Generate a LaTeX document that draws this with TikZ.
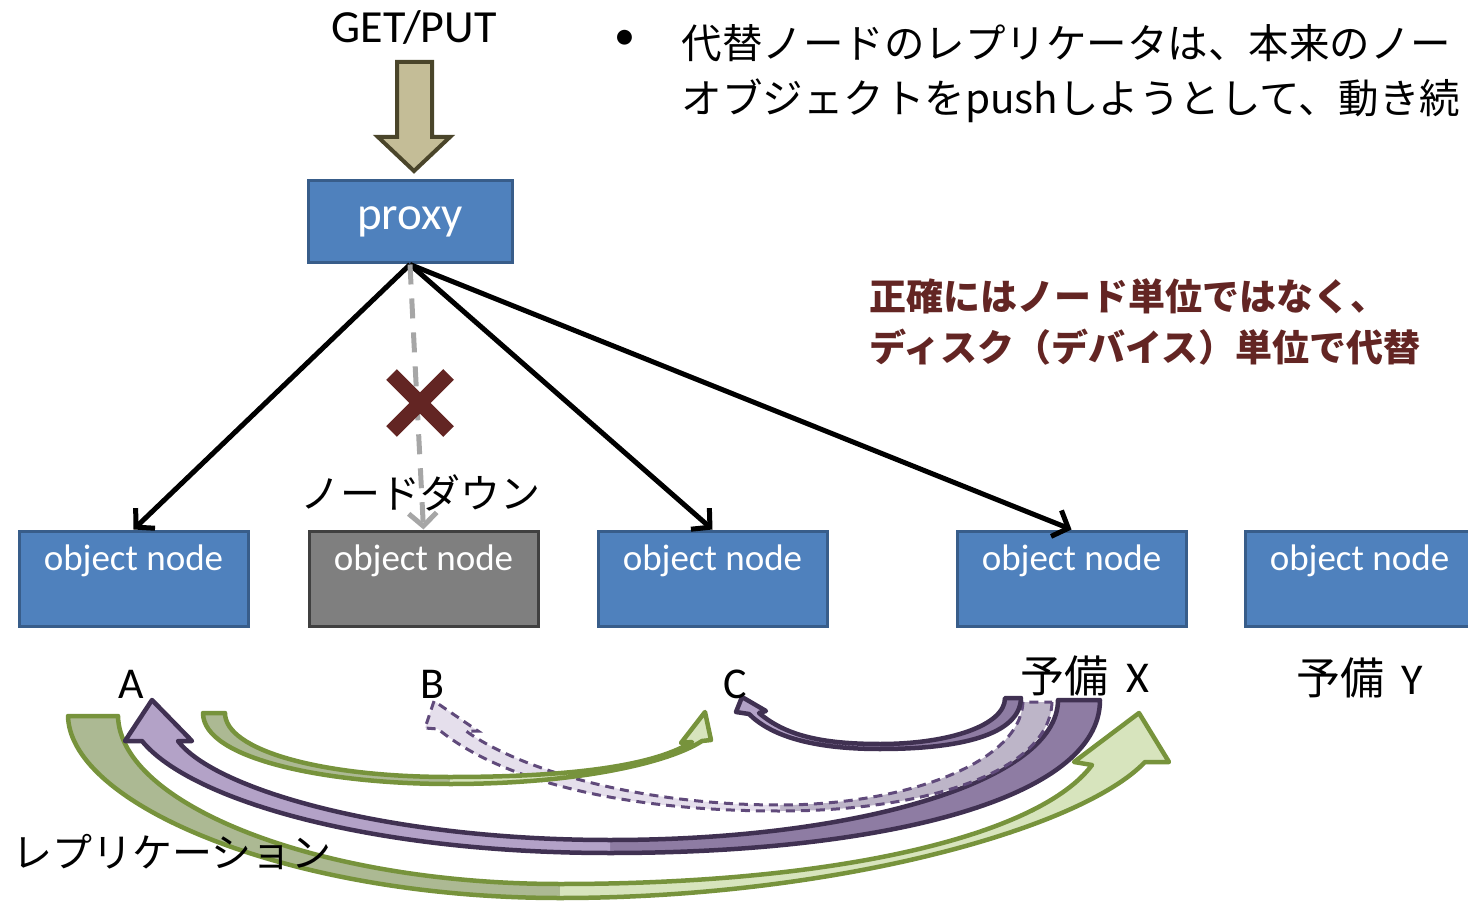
\documentclass[tikz,border=0pt]{standalone}
\usepackage{fontspec}
\setmainfont{Carlito}
\newfontfamily\jp{Noto Sans CJK JP}
\usetikzlibrary{arrows.meta,shapes.misc}

\definecolor{nodeblue}{HTML}{4F81BD}
\definecolor{nodeedge}{HTML}{385D8A}
\definecolor{downgray}{HTML}{7F7F7F}
\definecolor{downedge}{HTML}{404040}
\definecolor{tanfill}{HTML}{C4BD97}
\definecolor{tanedge}{HTML}{4A452A}
\definecolor{darkred}{HTML}{632523}
\definecolor{linkgray}{HTML}{A6A6A6}
\definecolor{greenedge}{HTML}{77933C}
\definecolor{greenlight}{HTML}{D7E4BD}
\definecolor{greendark}{HTML}{ACB993}
\definecolor{purpedge}{HTML}{403152}
\definecolor{purplight}{HTML}{B3A2C7}
\definecolor{purpdark}{HTML}{8E7CA3}
\definecolor{dashedge}{HTML}{604A7B}
\definecolor{dashlight}{HTML}{E5DFEC}
\definecolor{dashdark}{HTML}{BDB5C8}

% curved block arrow: #1 prefix of the coordinates, #2 tail fill, #3 head fill, #4 outline
\newcommand{\bandarrow}[4]{%
  \fill[#2] (#1t1) .. controls (#1c1) and (#1c2) .. (#1mo) -- (#1mi)
    .. controls (#1c7) and (#1c8) .. (#1t2) -- cycle;
  \fill[#3] (#1mo) .. controls (#1c3) and (#1c4) .. (#1n1) -- (#1b1) -- (#1p)
    -- (#1b2) -- (#1n2) .. controls (#1c5) and (#1c6) .. (#1mi) -- cycle;
  \draw[#4] (#1t1) .. controls (#1c1) and (#1c2) .. (#1mo)
    .. controls (#1c3) and (#1c4) .. (#1n1) -- (#1b1) -- (#1p) -- (#1b2) -- (#1n2)
    .. controls (#1c5) and (#1c6) .. (#1mi) .. controls (#1c7) and (#1c8) .. (#1t2) -- cycle;
}

\begin{document}
\begin{tikzpicture}[x=1pt,y=-1pt,
    box/.style={draw=nodeedge, fill=nodeblue, line width=3pt, text=white},
    objnode/.style={box, minimum width=229pt, inner ysep=0pt, text height=39pt,
      text depth=56pt, font=\fontsize{37}{44}\selectfont},
    lbl/.style={font=\fontsize{44}{52}\selectfont},
    jplbl/.style={font=\jp\fontsize{40}{48}\selectfont},
    link/.style={line width=5pt, -{Straight Barb[length=13pt,width=28pt]}},
    band/.style={line width=4.5pt, line join=round}]

  \useasboundingbox (0,0) rectangle (1468,901);

  % request
  \node[lbl, font=\fontsize{46}{54}\selectfont] (getput) at (414,28) {GET/PUT};
  \draw[fill=tanfill, draw=tanedge, line width=4pt]
    (397,62) -- (432,62) -- (432,137) -- (450,137) -- (414,171)
    -- (378,137) -- (397,137) -- cycle;
  \node[box, minimum width=204pt, minimum height=82pt,
    font=\fontsize{47}{54}\selectfont] (proxy) at (410,222) {proxy};

  % object nodes
  \node[objnode] (A) at (133.5,578.5) {object node};
  \node[objnode, fill=downgray, draw=downedge] (B) at (423.5,578.5) {object node};
  \node[objnode] (C) at (712.5,578.5) {object node};
  \node[objnode] (X) at (1071.5,578.5) {object node};
  \node[objnode] (Y) at (1359.5,578.5) {object node};

  \node[jplbl] (down) at (420,493) {ノードダウン};

  \draw[link] (proxy.south) -- (A.north);
  \draw[link] (proxy.south) -- (C.north);
  \draw[link] (proxy.south) -- (X.north);
  \draw[link, linkgray, dash pattern=on 20pt off 14pt] (proxy.south) -- (B.north);
  \node[cross out, draw=darkred, line width=15pt, minimum size=42pt, inner sep=0pt] (fail) at (420,403) {};

  % note
  \node[anchor=base west, text=darkred, font=\jp\bfseries\fontsize{37}{44}\selectfont] (note1) at (866,311) {正確にはノード単位ではなく、};
  \node[anchor=base west, text=darkred, font=\jp\bfseries\fontsize{37}{44}\selectfont] (note2) at (866,362) {ディスク（デバイス）単位で代替};

  % bullet
  \node[font=\fontsize{42}{50}\selectfont] (bul) at (625,40) {•};
  \node[anchor=base west, font=\jp\fontsize{40.5}{50}\selectfont] (line1) at (678,59) {代替ノードのレプリケータは、本来のノー};
  \node[anchor=base west, font=\jp\fontsize{40.5}{50}\selectfont] (line2) at (678,114) {オブジェクトをpushしようとして、動き続};

  % replication arrows
  \path (68,716) coordinate (g1t1) (118,716) coordinate (g1t2)
    (70,805) coordinate (g1c1) (290,898) coordinate (g1c2) (560,898) coordinate (g1mo)
    (830,898) coordinate (g1c3) (1080,830) coordinate (g1c4) (1145,762) coordinate (g1n1)
    (1169,762) coordinate (g1b1) (1139,713) coordinate (g1p) (1074,762) coordinate (g1b2)
    (1092,765) coordinate (g1n2) (1040,835) coordinate (g1c5) (840,884) coordinate (g1c6)
    (560,884) coordinate (g1mi) (320,884) coordinate (g1c7) (120,805) coordinate (g1c8);
  \bandarrow{g1}{greendark}{greenlight}{band, greenedge}

  \path (1100,700) coordinate (p1t1) (1058,700) coordinate (p1t2)
    (1100,800) coordinate (p1c1) (880,853) coordinate (p1c2) (610,853) coordinate (p1mo)
    (370,853) coordinate (p1c3) (190,800) coordinate (p1c4) (142,741) coordinate (p1n1)
    (125,741) coordinate (p1b1) (152,700) coordinate (p1p) (192,741) coordinate (p1b2)
    (178,741) coordinate (p1n2) (215,790) coordinate (p1c5) (390,840) coordinate (p1c6)
    (610,840) coordinate (p1mi) (860,840) coordinate (p1c7) (1058,780) coordinate (p1c8);
  \bandarrow{p1}{purpdark}{purplight}{band, purpedge}

  \path (1052,702) coordinate (dt1) (1023,702) coordinate (dt2)
    (1050,770) coordinate (dc1) (930,811) coordinate (dc2) (780,811) coordinate (dmo)
    (620,811) coordinate (dc3) (500,780) coordinate (dc4) (438,729) coordinate (dn1)
    (425,728) coordinate (db1) (434,701) coordinate (dp) (478,731) coordinate (db2)
    (466,731) coordinate (dn2) (520,770) coordinate (dc5) (640,805) coordinate (dc6)
    (780,805) coordinate (dmi) (900,805) coordinate (dc7) (1020,765) coordinate (dc8);
  \bandarrow{d}{dashdark}{dashlight}{line width=3pt, dashedge, dash pattern=on 9pt off 6pt}

  \path (203,713) coordinate (g2t1) (225,713) coordinate (g2t2)
    (203,760) coordinate (g2c1) (330,784) coordinate (g2c2) (450,784) coordinate (g2mo)
    (580,784) coordinate (g2c3) (670,762) coordinate (g2c4) (702,741) coordinate (g2n1)
    (711,740) coordinate (g2b1) (705,712) coordinate (g2p) (681,743) coordinate (g2b2)
    (692,742) coordinate (g2n2) (650,768) coordinate (g2c5) (560,777) coordinate (g2c6)
    (450,777) coordinate (g2mi) (320,777) coordinate (g2c7) (225,750) coordinate (g2c8);
  \bandarrow{g2}{greendark}{greenlight}{band, greenedge}

  \path (1021,698) coordinate (p2t1) (1005,698) coordinate (p2t2)
    (1020,735) coordinate (p2c1) (960,749) coordinate (p2c2) (880,749) coordinate (p2mo)
    (810,749) coordinate (p2c3) (770,735) coordinate (p2c4) (749,714) coordinate (p2n1)
    (736,712) coordinate (p2b1) (742,697) coordinate (p2p) (766,711) coordinate (p2b2)
    (759,713) coordinate (p2n2) (785,735) coordinate (p2c5) (820,744) coordinate (p2c6)
    (880,744) coordinate (p2mi) (950,744) coordinate (p2c7) (1005,725) coordinate (p2c8);
  \bandarrow{p2}{purpdark}{purplight}{band, purpedge}

  % labels
  \node[lbl] (labA) at (131,684) {A};
  \node[lbl] (labB) at (432,684) {B};
  \node[lbl] (labC) at (735,684) {C};
  \node[lbl] (labX) at (1085,676) {{\jp 予備}\, X};
  \node[lbl] (labY) at (1360,678) {{\jp 予備}\, Y};
  \node[jplbl] (repl) at (172,852) {レプリケーション};

\end{tikzpicture}
\end{document}
